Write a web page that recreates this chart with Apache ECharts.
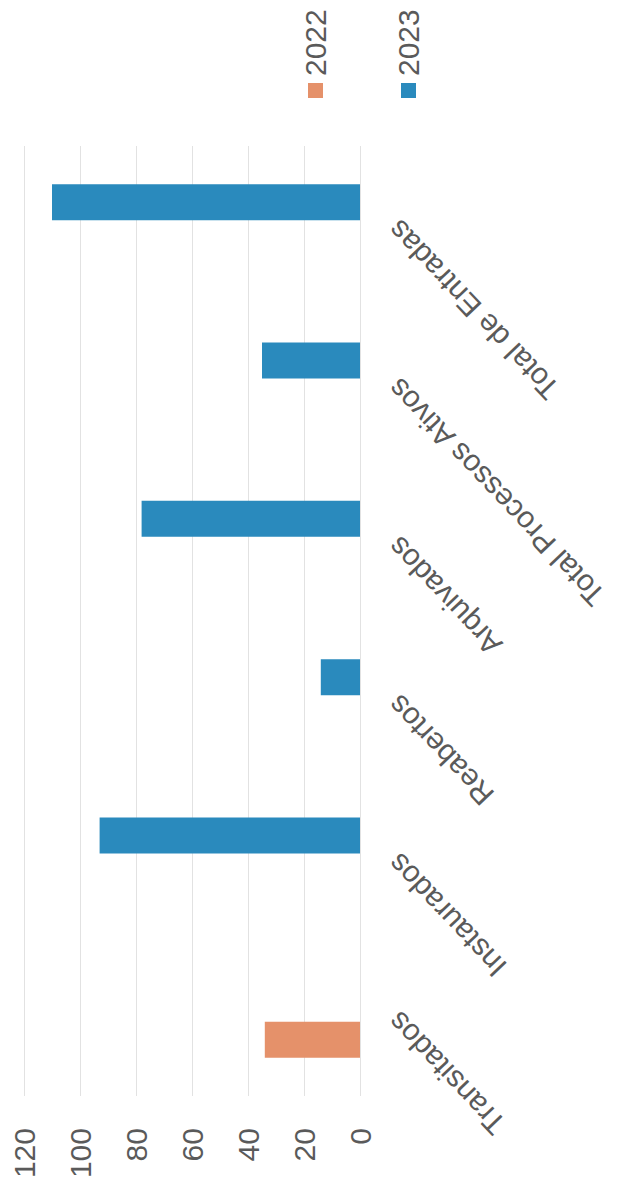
<!DOCTYPE html>
<html>
<head>
<meta charset="utf-8">
<script src="https://cdn.jsdelivr.net/npm/echarts@6/dist/echarts.min.js"></script>
<style>
html,body{margin:0;padding:0;background:#ffffff;}
#chart{width:643px;height:1190px;}
</style>
</head>
<body>
<div id="chart"></div>
<script>
var categories = ['Transitados', 'Instaurados', 'Reabertos', 'Arquivados', 'Total Processos Ativos', 'Total de Entradas'];
var seriesNames = ['2022', '2023'];
var values2022 = [34, null, null, null, null, null];
var values2023 = [null, 93, 14, 78, 35, 110];
var tickLabels = ['0', '20', '40', '60', '80', '100', '120'];

var colors = ['#e5916a', '#2a8abd'];
var textColor = '#5a5a5a';
var font = '"Liberation Sans", Arial, sans-serif';

var chart = echarts.init(document.getElementById('chart'), null, {renderer: 'svg'});

var legendGraphics = [];
seriesNames.forEach(function (name, i) {
  var cx = 315 + i * 93;
  legendGraphics.push({
    type: 'rect',
    shape: {x: cx - 7, y: 83, width: 15, height: 15},
    style: {fill: colors[i]}
  });
  legendGraphics.push({
    type: 'text',
    x: cx,
    y: 76,
    rotation: Math.PI / 2,
    style: {
      text: name,
      fontSize: 30,
      fontFamily: font,
      fill: textColor,
      textAlign: 'left',
      textVerticalAlign: 'middle'
    }
  });
});

chart.setOption({
  backgroundColor: '#ffffff',
  animation: false,
  grid: {left: 24, right: 283, top: 146, bottom: 94, containLabel: false},
  xAxis: {
    type: 'value',
    inverse: true,
    min: 0,
    max: 120,
    interval: 20,
    position: 'bottom',
    axisLine: {show: false},
    axisTick: {show: false},
    splitLine: {show: true, lineStyle: {color: '#e2e2e2', width: 1}},
    axisLabel: {
      rotate: 90,
      margin: 32,
      fontSize: 30,
      fontFamily: font,
      color: textColor,
      formatter: function (v) { return tickLabels[Math.round(v / 20)]; }
    }
  },
  yAxis: {
    type: 'category',
    data: categories,
    position: 'right',
    axisLine: {show: false},
    axisTick: {show: false},
    splitLine: {show: false},
    axisLabel: {
      rotate: 133.5,
      align: 'right',
      verticalAlign: 'middle',
      margin: 33,
      fontSize: 30,
      fontFamily: font,
      color: textColor,
      interval: 0
    }
  },
  series: [
    {name: seriesNames[1], type: 'bar', data: values2023, barWidth: 36, barGap: '28%', itemStyle: {color: colors[1]}},
    {name: seriesNames[0], type: 'bar', data: values2022, barWidth: 36, barGap: '28%', itemStyle: {color: colors[0]}}
  ],
  graphic: legendGraphics
});
</script>
</body>
</html>
